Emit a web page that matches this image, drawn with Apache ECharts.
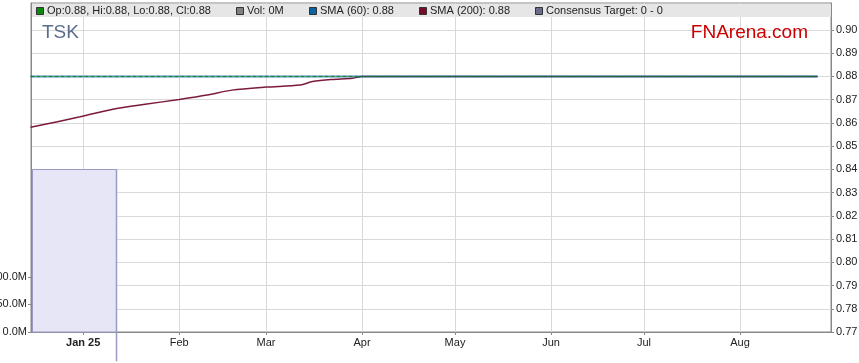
<!DOCTYPE html>
<html><head><meta charset="utf-8">
<script src="https://cdn.jsdelivr.net/npm/echarts@6/dist/echarts.min.js"></script>
<style>html,body{margin:0;padding:0;background:#fff}#c{width:859px;height:363px}</style>
</head><body><div id="c"></div>
<script>
// ---- data ----
const monthTicks = ['2025-01-01','2025-02-01','2025-03-01','2025-04-01','2025-05-01','2025-06-01','2025-07-01','2025-08-01'];
const monthNames = ['Jan','Feb','Mar','Apr','May','Jun','Jul','Aug','Sep','Oct','Nov','Dec'];
const priceTicks = [0.77,0.78,0.79,0.80,0.81,0.82,0.83,0.84,0.85,0.86,0.87,0.88,0.89,0.90];
const volumeTicks = [0, 50e6, 100e6];
const closeDates = ['2024-12-15','2025-01-15','2025-02-15','2025-03-15','2025-04-15','2025-05-15','2025-06-15','2025-07-15','2025-08-26'];
const closeValues = [0.88,0.88,0.88,0.88,0.88,0.88,0.88,0.88,0.88];
const sma60Dates = ['2024-12-15','2025-02-15','2025-04-15','2025-06-15','2025-08-26'];
const sma60Values = [0.88,0.88,0.88,0.88,0.88];
const sma200Dates = ['2024-12-15','2024-12-31','2025-01-11','2025-01-21','2025-02-01','2025-02-10','2025-02-18','2025-03-01','2025-03-12','2025-03-16','2025-03-22','2025-03-29','2025-04-01','2025-08-26'];
const sma200Values = [0.8581,0.8626,0.8660,0.8680,0.8701,0.8720,0.8741,0.8754,0.8763,0.8778,0.8787,0.8792,0.8800,0.8800];
const consensusDates = ['2024-12-15 12:00','2025-01-11 12:00'];
const consensusLevels = [0.84, 0.7574];
const timeRange = ['2024-12-15 03:36','2025-08-30 08:24'];
const priceRange = [0.77, 0.9116];
const volumeRange = [0, 596e6];
const legendLabels = ['Op:0.88, Hi:0.88, Lo:0.88, Cl:0.88','Vol: 0M','SMA (60): 0.88','SMA (200): 0.88','Consensus Target: 0 - 0'];
const legendColors = ['#0a8a0a','#808080','#0a64a4','#7a0a2a','#6a6a8e'];
const tickerName = 'TSK';
const brandName = 'FNArena.com';

// ---- helpers ----
function toTime(s){
  const [d,t] = s.split(' ');
  const [y,m,dd] = d.split('-').map(Number);
  let hh=0, mm=0;
  if (t) { [hh,mm] = t.split(':').map(Number); }
  return new Date(y, m-1, dd, hh, mm).getTime();
}
const pairs = (ds, vs) => ds.map((d,i)=>[toTime(d), vs[i]]);

const FONT = '"Liberation Sans", Arial, sans-serif';
const legendSquareX = [36, 236, 309, 419, 535];
const legendTextX = [47, 247, 320, 430, 546];

const graphics = [
  {type:'rect', shape:{x:32, y:4, width:799, height:13}, style:{fill:'#e6e6e6'}, z:10}
];
legendLabels.forEach((lab,i)=>{
  graphics.push({type:'rect', shape:{x:legendSquareX[i]+0.5, y:7.5, width:7, height:7}, style:{fill:legendColors[i], stroke:'#333', lineWidth:1}, z:11});
  graphics.push({type:'text', x:legendTextX[i], y:11, style:{text:lab, fill:'#222', font:'11px '+FONT, textVerticalAlign:'middle', textAlign:'left'}, z:11});
});
graphics.push({type:'text', x:42, y:32.5, style:{text:tickerName, fill:'#5a6d8c', font:'19px '+FONT, textVerticalAlign:'middle'}, z:11});
graphics.push({type:'text', x:808, y:33, style:{text:brandName, fill:'#cc0000', font:'19px '+FONT, textVerticalAlign:'middle', textAlign:'right'}, z:11});

const chart = echarts.init(document.getElementById('c'), null, {renderer:'canvas'});
chart.setOption({
  animation:false,
  backgroundColor:'#fff',
  textStyle:{fontFamily:FONT},
  grid:{left:31, right:28, top:3, bottom:31, show:true, borderColor:'#888', borderWidth:1, backgroundColor:'transparent', containLabel:false, outerBoundsMode:'none'},
  xAxis:{
    type:'value', min:toTime(timeRange[0]), max:toTime(timeRange[1]),
    axisLine:{show:true, lineStyle:{color:'#888'}},
    axisTick:{show:true, length:3, lineStyle:{color:'#888'}, customValues:monthTicks.map(toTime)},
    splitLine:{show:true, lineStyle:{color:'#d9d9d9', width:1}},
    axisLabel:{
      customValues:monthTicks.map(toTime), margin:5, color:'#222', fontSize:11, fontFamily:FONT,
      formatter:(v)=>{ const d=new Date(v); const m=d.getMonth(); return m===0 ? '{b|'+monthNames[m]+' '+String(d.getFullYear()).slice(2)+'}' : monthNames[m]; },
      rich:{b:{fontWeight:'bold', fontSize:11, color:'#222', fontFamily:FONT}}
    }
  },
  yAxis:[
    {
      type:'value', position:'left', min:volumeRange[0], max:volumeRange[1],
      axisLine:{show:true, lineStyle:{color:'#888'}},
      axisTick:{show:true, length:3, lineStyle:{color:'#888'}, customValues:volumeTicks},
      splitLine:{show:false},
      axisLabel:{customValues:volumeTicks, margin:4, color:'#222', fontSize:11, fontFamily:FONT, formatter:(v)=>(v/1e6).toFixed(1)+'M'}
    },
    {
      type:'value', position:'right', min:priceRange[0], max:priceRange[1],
      axisLine:{show:true, lineStyle:{color:'#888'}},
      axisTick:{show:true, length:3, lineStyle:{color:'#888'}, customValues:priceTicks},
      splitLine:{show:true, lineStyle:{color:'#d9d9d9', width:1}},
      axisLabel:{customValues:priceTicks, margin:5, color:'#222', fontSize:11, fontFamily:FONT, formatter:(v)=>v.toFixed(2)}
    }
  ],
  graphic:graphics,
  series:[
    {
      type:'custom', xAxisIndex:0, yAxisIndex:1, clip:false, z:1,
      data:[[toTime(consensusDates[0]), toTime(consensusDates[1]), consensusLevels[0], consensusLevels[1]]],
      encode:{x:[0,1], y:[2,3]},
      renderItem:(params, api)=>{
        const p0 = api.coord([api.value(0), api.value(2)]);
        const p1 = api.coord([api.value(1), api.value(3)]);
        const cs = params.coordSys;
        const gb = cs.y + cs.height;
        const left = Math.max(Math.round(p0[0]), cs.x+1) + 0.5;
        const right = Math.round(p1[0]) + 0.5;
        const top = Math.round(p0[1]) + 0.5;
        return {type:'group', children:[
          {type:'rect', shape:{x:left, y:top, width:right-left, height:gb-top}, style:{fill:'#e6e6f6', stroke:'#9a9ac2', lineWidth:1}},
          {type:'line', shape:{x1:right, y1:top, x2:right, y2:p1[1]}, style:{stroke:'#9a9ac2', lineWidth:1.5}}
        ]};
      }
    },
    {type:'line', name:'SMA (200)', xAxisIndex:0, yAxisIndex:1, data:pairs(sma200Dates, sma200Values), showSymbol:false, smooth:0.3, lineStyle:{color:'#7c1a3c', width:1.5}, z:2},
    {type:'line', name:'SMA (60)', xAxisIndex:0, yAxisIndex:1, data:pairs(sma60Dates, sma60Values), showSymbol:false, lineStyle:{color:'#0a64b4', width:2.5, opacity:0.5}, z:3},
    {type:'line', name:'Close', xAxisIndex:0, yAxisIndex:1, data:pairs(closeDates, closeValues), showSymbol:false, lineStyle:{color:'#108a10', width:1, type:[4,2]}, z:4}
  ]
});
</script></body></html>
